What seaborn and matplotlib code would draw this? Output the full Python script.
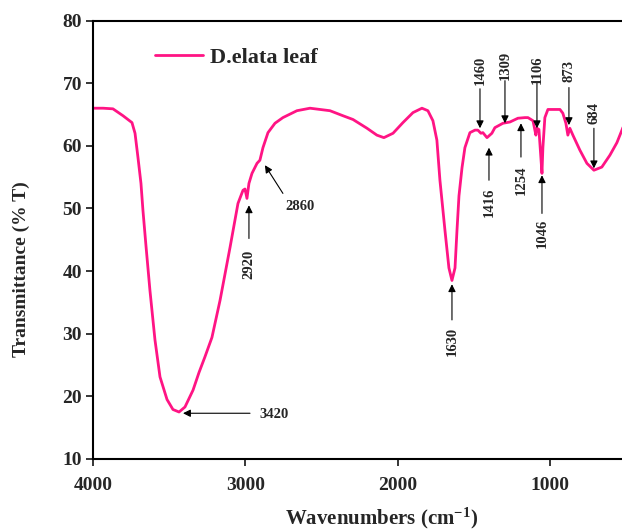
import numpy as np
import pandas as pd
import matplotlib
matplotlib.use("Agg")
import matplotlib.pyplot as plt
import seaborn as sns

# FTIR spectrum (wavenumber in cm-1, transmittance in %)
wavenumber = [4000, 3934, 3869, 3803, 3744, 3724, 3705, 3685, 3672, 3652,
              3626, 3593, 3560, 3514, 3475, 3435, 3396, 3343, 3304, 3265,
              3219, 3166, 3100, 3048, 3015, 3002, 2989, 2976, 2956, 2923,
              2904, 2884, 2851, 2805, 2753, 2661, 2575, 2444, 2359, 2293,
              2201, 2136, 2090, 2030, 1965, 1899, 1840, 1801, 1768, 1742,
              1722, 1689, 1663, 1643, 1623, 1610, 1597, 1577, 1558, 1525,
              1492, 1473, 1453, 1440, 1413, 1381, 1361, 1308, 1262, 1210,
              1164, 1144, 1111, 1092, 1085, 1072, 1052, 1046, 1033, 1013,
              934, 915, 895, 882, 869, 849, 803, 757, 711, 659,
              606, 560, 527, 500]
transmittance = [66.0, 66.0, 65.9, 64.8, 63.7, 62.0, 58.2, 54.0, 49.7, 44.0,
                 36.9, 29.0, 23.1, 19.5, 17.9, 17.5, 18.3, 21.0, 23.8, 26.3,
                 29.4, 35.3, 43.8, 50.8, 52.9, 53.1, 51.6, 54.0, 55.6, 57.2,
                 57.7, 59.7, 62.1, 63.6, 64.5, 65.6, 66.0, 65.6, 64.8, 64.2,
                 62.8, 61.7, 61.3, 62.0, 63.7, 65.3, 66.0, 65.6, 64.0, 60.9,
                 54.5, 46.5, 40.5, 38.5, 40.5, 46.5, 52.0, 56.5, 59.7, 62.1,
                 62.5, 62.5, 62.0, 62.1, 61.3, 62.0, 62.9, 63.6, 63.8, 64.4,
                 64.5, 64.5, 64.0, 61.7, 62.8, 62.6, 55.6, 59.7, 64.5, 65.8,
                 65.8, 65.2, 63.6, 61.7, 62.8, 61.7, 59.3, 57.2, 56.1, 56.6,
                 58.5, 60.5, 62.5, 64.2]

df = pd.DataFrame({"Wavenumber": wavenumber, "Transmittance": transmittance})

# peak labels (text, x of arrow, arrow tip, arrow tail, text centre)
peak_labels = ["2920", "1630", "1460", "1416", "1309", "1254", "1106", "1046", "873", "684"]
peak_x = [2976, 1643, 1459, 1400, 1295, 1190, 1085, 1052, 875, 711]
tip_y = [50.5, 37.9, 62.8, 59.7, 63.6, 63.6, 62.8, 55.3, 63.3, 56.4]
tail_y = [45.2, 32.2, 69.1, 54.5, 70.4, 58.2, 70.0, 49.2, 69.3, 62.8]
text_y = [41.1, 28.8, 72.0, 51.0, 72.8, 54.5, 72.2, 46.0, 72.0, 65.2]

sns.set_style("ticks")
plt.rcParams["font.family"] = ["Liberation Serif", "DejaVu Serif"]
plt.rcParams["font.weight"] = "bold"
plt.rcParams["mathtext.fontset"] = "custom"
plt.rcParams["mathtext.rm"] = "Liberation Serif:bold"
plt.rcParams["mathtext.it"] = "Liberation Serif:bold"
plt.rcParams["mathtext.bf"] = "Liberation Serif:bold"

fig = plt.figure(figsize=(6.22, 5.30), dpi=100)
ax = fig.add_axes([0.1495, 0.134, 0.857, 0.8273])

sns.lineplot(data=df, x="Wavenumber", y="Transmittance", ax=ax, color="#FF1484",
             lw=2.0, estimator=None, sort=False, label="D.elata leaf")

ax.set_xlim(4000, 500)
ax.set_ylim(10, 80)
ax.set_xticks([4000, 3000, 2000, 1000])
ax.set_yticks(range(10, 81, 10))
ax.tick_params(direction="out", length=5, width=1.3, labelsize=14, pad=3)
ax.tick_params(axis="x", pad=8)
for lab in ax.get_xticklabels() + ax.get_yticklabels():
    lab.set_fontweight("bold")
for sp in ax.spines.values():
    sp.set_linewidth(1.5)
    sp.set_color("black")

ax.set_xlabel(r"Wavenumbers (cm$^{-1}$)", fontsize=15, fontweight="bold")
ax.set_ylabel("Transmittance (% T)", fontsize=14, fontweight="bold")
ax.xaxis.set_label_coords(0.542, -0.106)
ax.yaxis.set_label_coords(-0.118, 0.434)

arrow_kw = dict(arrowstyle="-|>", color="black", lw=0.8, mutation_scale=11,
                shrinkA=0, shrinkB=0)

for lab, x, ty, tl, tt in zip(peak_labels, peak_x, tip_y, tail_y, text_y):
    ax.annotate("", xy=(x, ty), xytext=(x, tl), arrowprops=arrow_kw)
    ax.text(x, tt, lab, rotation=90, ha="center", va="center",
            fontsize=10.5, fontweight="bold")

# 3420 and 2860 use sideways arrows
ax.annotate("", xy=(3409, 17.3), xytext=(2969, 17.3), arrowprops=arrow_kw)
ax.text(2904, 17.1, "3420", ha="left", va="center", fontsize=10.5, fontweight="bold")
ax.annotate("", xy=(2871, 56.9), xytext=(2753, 52.4), arrowprops=arrow_kw)
ax.text(2740, 50.3, "2860", ha="left", va="center", fontsize=10.5, fontweight="bold")

leg = ax.legend(loc="upper left", bbox_to_anchor=(0.078, 0.985), frameon=False,
                prop={"family": "Liberation Serif", "weight": "bold", "size": 16},
                handlelength=2.2, handletextpad=0.3)

fig.savefig("out.png", dpi=100, facecolor="white")
